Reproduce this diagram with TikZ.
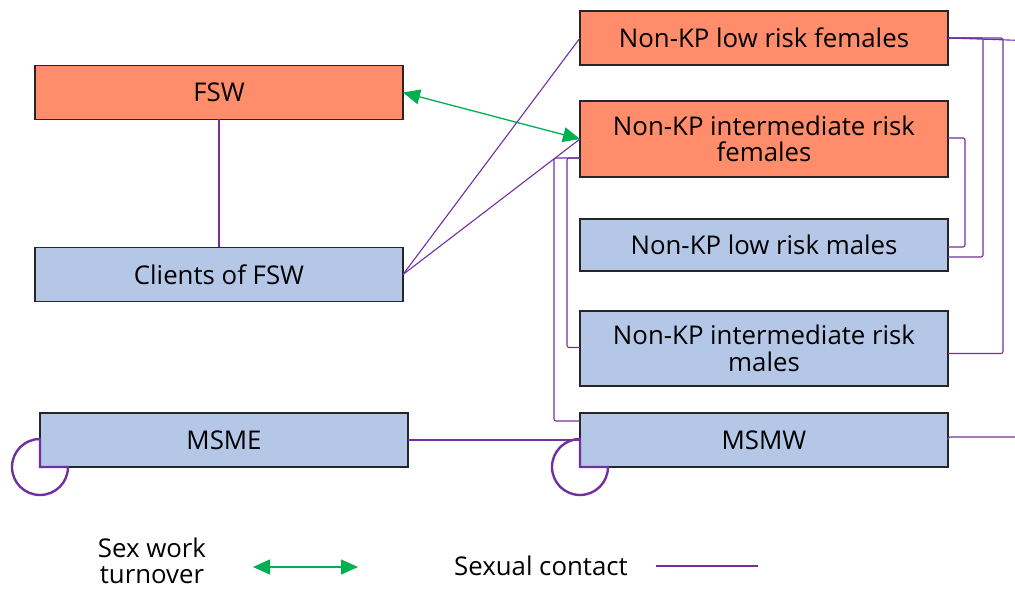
\documentclass[tikz,border=0pt]{standalone}
\usepackage{fontspec}
\setmainfont{Open Sans}
\usepackage{xcolor}
\usetikzlibrary{arrows.meta}
\usetikzlibrary{positioning}
\definecolor{kporange}{RGB}{255,140,106}
\definecolor{kpblue}{RGB}{180,199,231}
\definecolor{contactpurple}{RGB}{112,48,160}
\definecolor{turnovergreen}{RGB}{0,176,80}
\tikzset{>=stealth}
\tikzset{
  group/.style={draw=black!85,line width=1.1pt,minimum width=368pt,minimum height=54pt,
    inner sep=0pt,outer sep=0pt,align=center,font=\fontsize{25.8}{26.5}\selectfont},
  female/.style={group,fill=kporange},
  male/.style={group,fill=kpblue},
  contact/.style={draw=contactpurple,line width=1.1pt,rounded corners=2pt},
  selfloop/.style={draw=contactpurple,line width=2.4pt},
  turnover/.style={draw=turnovergreen,line width=1.3pt,
    {Triangle[length=17pt,width=15pt]}-{Triangle[length=17pt,width=15pt]}},
  legend/.style={align=center,inner sep=0pt,font=\fontsize{25.8}{26.5}\selectfont}
}
\begin{document}
\begin{tikzpicture}[x=1pt,y=1pt]
    \clip (0,0) rectangle (1015,589);
    % groups
    \node[female] (fsw) at (219,496.5) {FSW};
    \node[male] (clients) at (219,314.5) {Clients of FSW};
    \node[female] (nklrf) at (764,551) {Non-KP low risk females};
    \node[female,minimum height=76pt] (nkirf) at (764,450) {Non-KP intermediate risk\\females};
    \node[male,minimum height=52pt] (nklrm) at (764,344) {Non-KP low risk males};
    \node[male,minimum height=75pt] (nkirm) at (764,240.5) {Non-KP intermediate risk\\males};
    \node[male] (msme) at (224,149) {MSME};
    \node[male] (msmw) at (764,149) {MSMW};
    % sex work turnover
    \draw[turnover] (fsw.east) -- (nkirf.west);
    % sexual contact
    \draw[contact] (fsw) -- (clients);
    \draw[contact] (clients.east) -- (nklrf.west);
    \draw[contact] (clients.east) -- (nkirf.west);
    \draw[contact] (msme) -- (msmw);
    \draw[contact] ([yshift=-19pt]nkirf.west) -- ++(-13,0) |- ([yshift=1pt]nkirm.west);
    \draw[contact] ([yshift=-19pt]nkirf.west) -- ++(-26,0) |- ([yshift=19pt]msmw.west);
    \draw[contact] ([yshift=1pt]nkirf.east) -- ++(17,0) |- ([yshift=-2pt]nklrm.east);
    \draw[contact] (nklrf.east) -- ++(35,0) |- ([yshift=-12pt]nklrm.east);
    \draw[contact] (nklrf.east) -- ++(55,0) |- ([yshift=-5pt]nkirm.east);
    \draw[contact] (nklrf.east) -- ++(90,-3) |- ([yshift=3pt]msmw.east) -- (msmw.east);
    % self loops
    \draw[selfloop] (msme.south west) -- ++(0,28) arc (90:360:28) -- cycle;
    \draw[selfloop] (msmw.south west) -- ++(0,28) arc (90:360:28) -- cycle;
    % legend
    \node[legend] (swlabel) at (152,28) {Sex work\\turnover};
    \coordinate (swa) at (253,22);
    \coordinate (swb) at (358,22);
    \draw[turnover] (swa) -- (swb);
    \node[legend] (sclabel) at (541,23) {Sexual contact};
    \coordinate (sca) at (656,23);
    \coordinate (scb) at (758,23);
    \draw[contact] (sca) -- (scb);
\end{tikzpicture}
\end{document}
